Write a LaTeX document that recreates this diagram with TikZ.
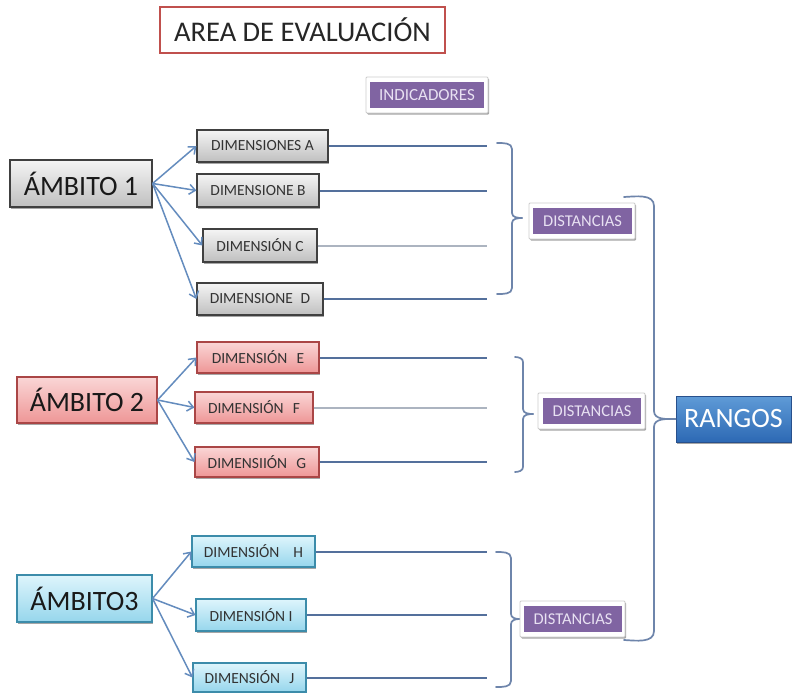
\documentclass[tikz,border=0pt]{standalone}
\usepackage{fontspec}
\setmainfont{Carlito}
\usetikzlibrary{arrows.meta,shadows}
\definecolor{arrowblue}{RGB}{100,140,190}
\definecolor{lineblue}{RGB}{84,112,156}
\definecolor{linegray}{RGB}{172,180,192}
\definecolor{purp}{RGB}{128,100,162}
\definecolor{purptext}{RGB}{232,225,242}
\definecolor{titlered}{RGB}{192,80,77}
\definecolor{pinktop}{RGB}{250,214,214}
\definecolor{pinkbot}{RGB}{238,150,150}
\definecolor{pinkdraw}{RGB}{170,70,70}
\definecolor{cyantop}{RGB}{222,245,252}
\definecolor{cyanbot}{RGB}{150,214,236}
\definecolor{cyandraw}{RGB}{60,140,170}
\definecolor{bluetop}{RGB}{95,155,215}
\definecolor{bluebot}{RGB}{45,105,180}
\definecolor{bluedraw}{RGB}{40,80,140}
\tikzset{
  shd/.style={drop shadow={shadow xshift=1.2pt,shadow yshift=-1.5pt,fill=black,opacity=0.35}},
  sz/.style 2 args={minimum width=#1pt,minimum height=#2pt,inner sep=0pt},
  ttl/.style={draw=titlered,line width=1.3pt,fill=white,font=\fontsize{28.5}{28.5}\selectfont,text=black!85},
  graybox/.style={shd,draw=black!75,line width=1.2pt,top color=white!96!black,bottom color=black!25},
  pinkbox/.style={shd,draw=pinkdraw,line width=1.1pt,top color=pinktop,bottom color=pinkbot},
  cyanbox/.style={shd,draw=cyandraw,line width=1.1pt,top color=cyantop,bottom color=cyanbot},
  amb/.style={font=\fontsize{28}{28}\selectfont,text=black!90},
  dim/.style={font=\fontsize{15.5}{15.5}\selectfont,text=black!80},
  tagouter/.style={shd,draw=black!20,line width=0.8pt,fill=white,rounded corners=1pt},
  tag/.style={fill=purp,text=purptext,font=\fontsize{16.5}{16.5}\selectfont},
  rng/.style={shd,draw=bluedraw,line width=1pt,top color=bluetop,bottom color=bluebot,text=white,font=\fontsize{28}{28}\selectfont},
  arr/.style={draw=arrowblue,line width=1.5pt,-{Straight Barb[length=6pt,width=10pt,line width=1.5pt]}},
  ln/.style={draw=lineblue,line width=2pt},
  lng/.style={draw=linegray,line width=2pt},
  brk/.style={draw=lineblue!85,line width=1.7pt,line cap=round}
}
\begin{document}
\begin{tikzpicture}[x=1pt,y=-1pt]
\useasboundingbox (0,0) rectangle (792,693);
\fill[white] (0,0) rectangle (792,693);

% title and indicators
\node[ttl,sz={285}{46}] (title) at (302.5,30) {AREA DE EVALUACIÓN};
\node[tagouter,sz={122}{36}] (indo) at (427,95) {};
\node[tag,font=\fontsize{17}{17}\selectfont,sz={114}{26}] (ind) at (427,95) {INDICADORES};

% ambitos
\node[graybox,amb,sz={142}{47}] (a1) at (81,183.5) {ÁMBITO 1};
\node[pinkbox,amb,sz={140}{46}] (a2) at (87,400) {ÁMBITO 2};
\node[cyanbox,amb,sz={135}{47}] (a3) at (84.5,598.5) {ÁMBITO3};

% dimensions
\node[graybox,dim,sz={131}{32}] (dA) at (262.5,146) {DIMENSIONES A};
\node[graybox,dim,sz={122}{33}] (dB) at (258,190.5) {DIMENSIONE B};
\node[graybox,dim,sz={114}{33}] (dC) at (260,245.5) {DIMENSIÓN C};
\node[graybox,dim,sz={126}{32}] (dD) at (260,299) {DIMENSIONE\hspace{0.5em}D};
\node[pinkbox,dim,sz={122}{31}] (dE) at (258,357.5) {DIMENSIÓN\hspace{0.6em}E};
\node[pinkbox,dim,sz={118}{31}] (dF) at (254,407.5) {DIMENSIÓN\hspace{0.6em}F};
\node[pinkbox,dim,sz={124}{30}] (dG) at (257,462) {DIMENSIIÓN\hspace{0.6em}G};
\node[cyanbox,dim,sz={123}{31}] (dH) at (253.5,551.5) {DIMENSIÓN\hspace{0.9em}H};
\node[cyanbox,dim,sz={110}{32}] (dI) at (251,615) {DIMENSIÓN I};
\node[cyanbox,dim,sz={113}{29}] (dJ) at (249.5,677.5) {DIMENSIÓN\hspace{0.6em}J};

% arrows
\foreach \d in {dA,dB,dC,dD} \draw[arr] (a1.east) -- (\d.west);
\foreach \d in {dE,dF,dG} \draw[arr] (a2.east) -- (\d.west);
\foreach \d in {dH,dI,dJ} \draw[arr] (a3.east) -- (\d.west);

% indicator lines
\coordinate (endx) at (487,0);
\draw[ln] (dA.east) -- (dA.east -| endx);
\draw[ln] (dB.east) -- (dB.east -| endx);
\draw[lng] (dC.east) -- (dC.east -| endx);
\draw[ln] (dD.east) -- (dD.east -| endx);
\draw[ln] (dE.east) -- (dE.east -| endx);
\draw[lng] (dF.east) -- (dF.east -| endx);
\draw[ln] (dG.east) -- (dG.east -| endx);
\draw[ln] (dH.east) -- (dH.east -| endx);
\draw[ln] (dI.east) -- (dI.east -| endx);
\draw[ln] (dJ.east) -- (dJ.east -| endx);

% distancias
\node[tagouter,sz={106}{36}] (ds1o) at (582,221) {};
\node[tag,sz={99}{26}] (ds1) at (582.5,221) {DISTANCIAS};
\node[tagouter,sz={107}{36}] (ds2o) at (591.5,411) {};
\node[tag,sz={98}{26}] (ds2) at (592,411) {DISTANCIAS};
\node[tagouter,sz={105}{36}] (ds3o) at (572.5,619) {};
\node[tag,sz={98}{26}] (ds3) at (573,619) {DISTANCIAS};

% rangos
\node[rng,sz={115}{46}] (rg) at (733.5,419) {RANGOS};

% brackets
\coordinate (b1t) at (497,143); \coordinate (b1b) at (497,294); \coordinate (b1m) at (522,218);
\draw[brk] (b1t) to[out=0,in=90] (512,149) -- (512,213) to[out=-90,in=180] (b1m);
\draw[brk] (b1m) to[out=180,in=90] (512,223) -- (512,288) to[out=-90,in=0] (b1b);

\coordinate (b2t) at (515,357); \coordinate (b2b) at (515,472); \coordinate (b2m) at (533,414);
\draw[brk] (b2t) to[out=0,in=90] (523,362) -- (523,409) to[out=-90,in=180] (b2m);
\draw[brk] (b2m) to[out=180,in=90] (523,419) -- (523,467) to[out=-90,in=0] (b2b);

\coordinate (b3t) at (496,552); \coordinate (b3b) at (496,687); \coordinate (b3m) at (519,619);
\draw[brk] (b3t) to[out=0,in=90] (511,558) -- (511,614) to[out=-90,in=180] (b3m);
\draw[brk] (b3m) to[out=180,in=90] (511,624) -- (511,681) to[out=-90,in=0] (b3b);

\coordinate (bRt) at (624,197); \coordinate (bRb) at (624,640);
\draw[brk] (bRt) to[out=3,in=90] (654,206) -- (654,411) to[out=-90,in=180] (rg.west);
\draw[brk] (rg.west) to[out=180,in=90] (654,427) -- (654,631) to[out=-90,in=-3] (bRb);
\end{tikzpicture}
\end{document}
